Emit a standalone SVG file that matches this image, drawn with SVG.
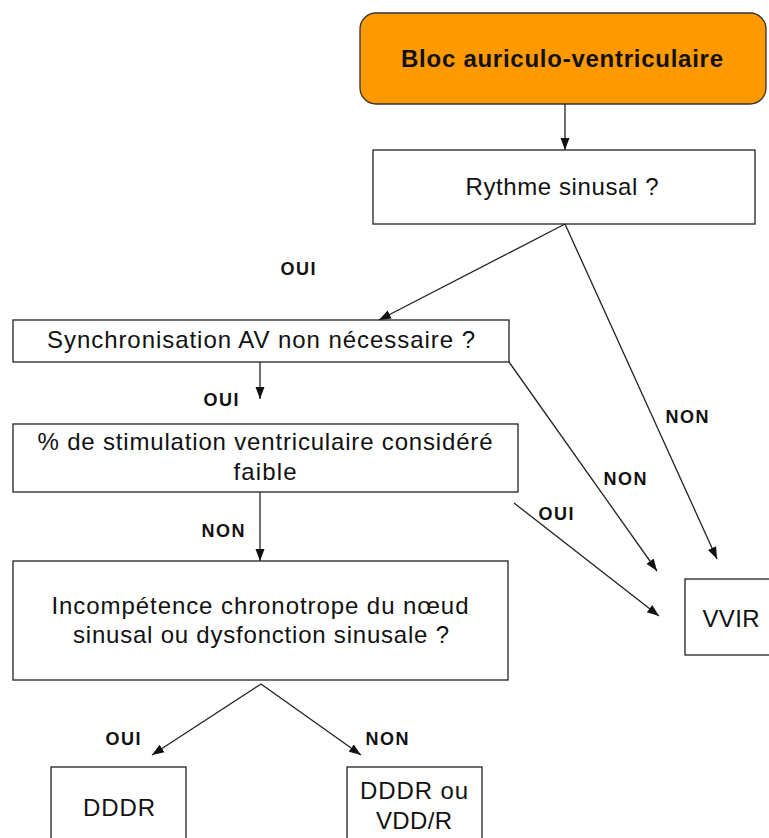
<svg xmlns="http://www.w3.org/2000/svg" width="769" height="838" viewBox="0 0 769 838">
<defs>
<marker id="ah" markerWidth="12" markerHeight="10" refX="12" refY="5" orient="auto" markerUnits="userSpaceOnUse" viewBox="0 0 12 10">
<path d="M0,0.5 L12,5 L0,9.5 Z" fill="#111"/>
</marker>
<style>
.box{fill:#fff;stroke:#222;stroke-width:1.3}
.t{font-family:"Liberation Sans",Arial,sans-serif;font-size:24px;fill:#111;text-anchor:middle}
.b{font-family:"Liberation Sans",Arial,sans-serif;font-size:18px;font-weight:bold;fill:#111;text-anchor:middle}
.c{fill:none;stroke:#222;stroke-width:1.3}
</style>
</defs>
<rect width="769" height="838" fill="#fff"/>
<g id="bloc">
<rect x="360" y="13" width="406" height="91" rx="16" ry="16" fill="#FF9900" stroke="#333" stroke-width="1.3"/>
<text x="562" y="67" font-family="'Liberation Sans',Arial,sans-serif" font-size="24" font-weight="bold" text-anchor="middle" fill="#111" textLength="322">Bloc auriculo-ventriculaire</text>
</g>
<g id="rythme">
<rect class="box" x="373" y="150" width="382" height="74"/>
<text class="t" x="562" y="195" textLength="193">Rythme sinusal ?</text>
</g>
<g id="sync">
<rect class="box" x="13" y="320" width="496" height="42"/>
<text class="t" x="261" y="348" textLength="428">Synchronisation AV non nécessaire ?</text>
</g>
<g id="stim">
<rect class="box" x="13" y="424" width="505" height="68"/>
<text class="t" x="265" y="450" textLength="455">% de stimulation ventriculaire considéré</text>
<text class="t" x="265" y="480" textLength="63">faible</text>
</g>
<g id="incomp">
<rect class="box" x="13" y="561" width="495" height="119"/>
<text class="t" x="260" y="614" textLength="417">Incompétence chronotrope du nœud</text>
<text class="t" x="261" y="643" textLength="376">sinusal ou dysfonction sinusale ?</text>
</g>
<g id="vvir">
<rect class="box" x="685" y="579" width="110" height="76"/>
<text class="t" x="731" y="627" textLength="57">VVIR</text>
</g>
<g id="dddr">
<rect class="box" x="51" y="767" width="135" height="90"/>
<text class="t" x="119" y="816" textLength="72">DDDR</text>
</g>
<g id="dddr-vdd">
<rect class="box" x="347" y="767" width="135" height="90"/>
<text class="t" x="414" y="799" textLength="108">DDDR ou</text>
<text class="t" x="414" y="829" textLength="76">VDD/R</text>
</g>
<g id="connectors">
<line class="c" x1="565" y1="104" x2="565" y2="150" marker-end="url(#ah)"/>
<line class="c" x1="565" y1="224" x2="379" y2="320" marker-end="url(#ah)"/>
<line class="c" x1="565" y1="224" x2="717" y2="559" marker-end="url(#ah)"/>
<line class="c" x1="260" y1="362" x2="260" y2="399" marker-end="url(#ah)"/>
<line class="c" x1="509" y1="362" x2="657" y2="571" marker-end="url(#ah)"/>
<line class="c" x1="260" y1="492" x2="260" y2="561" marker-end="url(#ah)"/>
<line class="c" x1="514" y1="503" x2="659" y2="616" marker-end="url(#ah)"/>
<line class="c" x1="261" y1="684" x2="152" y2="755" marker-end="url(#ah)"/>
<line class="c" x1="261" y1="684" x2="361" y2="755" marker-end="url(#ah)"/>
</g>
<g id="labels">
<text class="b" x="298" y="275" textLength="35">OUI</text>
<text class="b" x="221" y="406" textLength="35">OUI</text>
<text class="b" x="223" y="537" textLength="43">NON</text>
<text class="b" x="625" y="485" textLength="43">NON</text>
<text class="b" x="687" y="423" textLength="43">NON</text>
<text class="b" x="556" y="520" textLength="35">OUI</text>
<text class="b" x="123" y="745" textLength="35">OUI</text>
<text class="b" x="387" y="745" textLength="43">NON</text>
</g>
</svg>
